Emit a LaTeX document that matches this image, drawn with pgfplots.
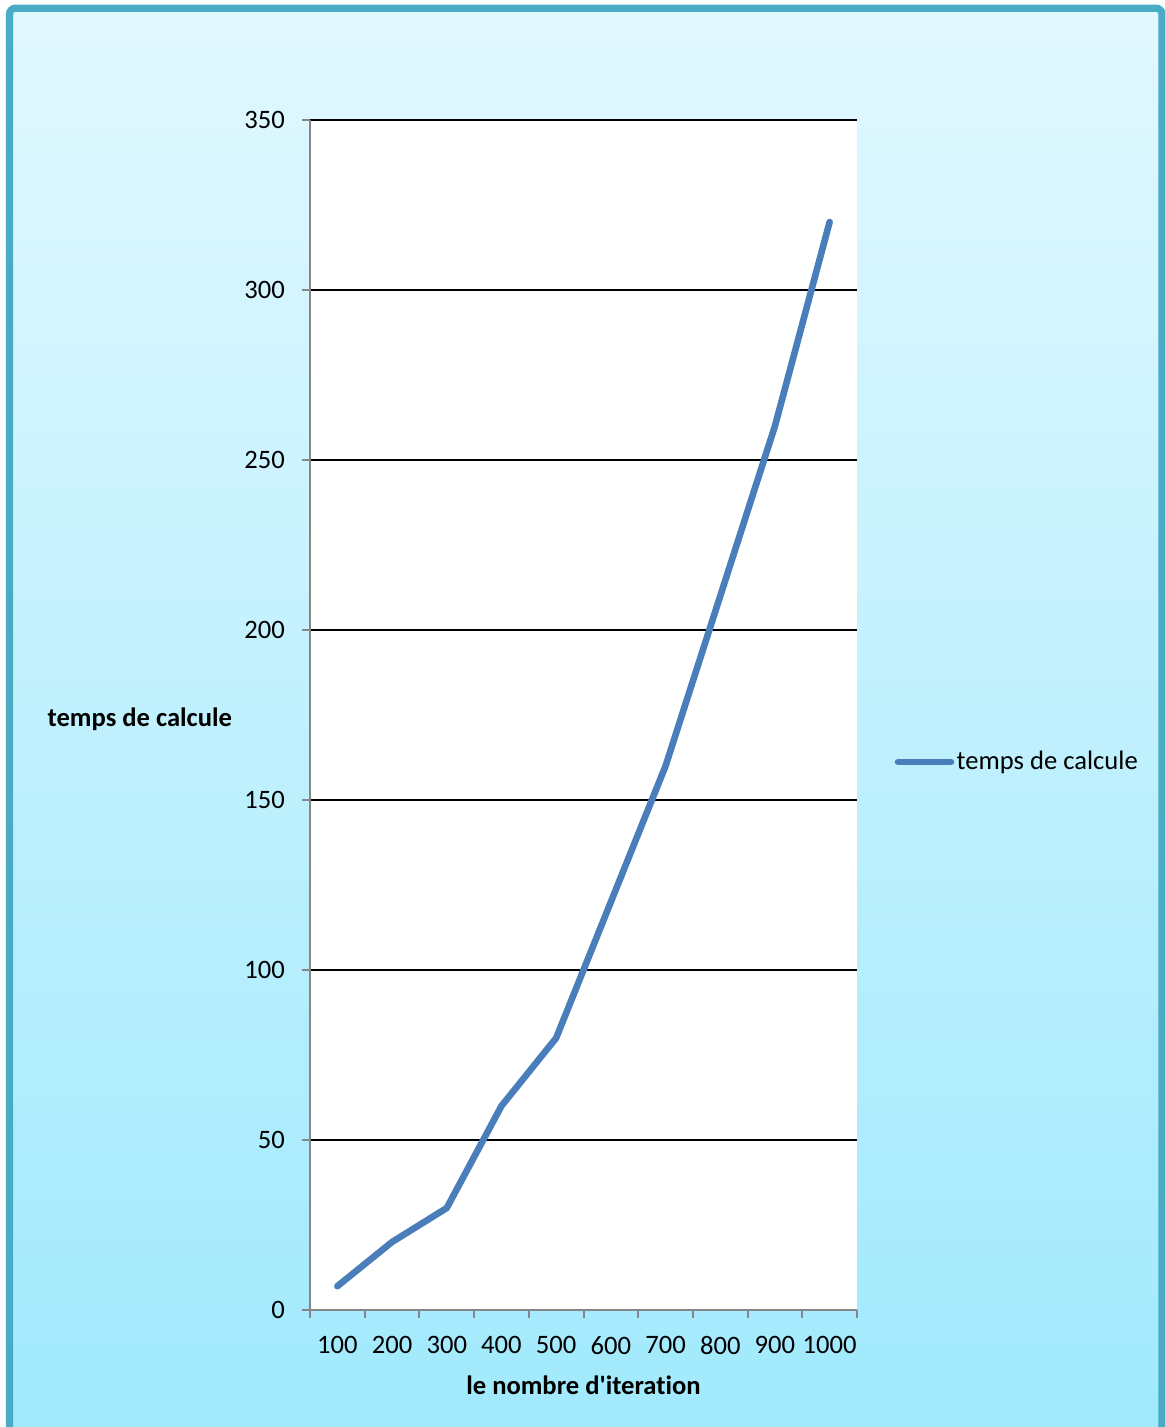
\documentclass[border=0pt]{standalone}
\usepackage{fontspec}
\setmainfont{Carlito}[Ligatures={NoCommon}]
\usepackage{pgfplots}
\pgfplotsset{compat=1.18}

\definecolor{framecol}{HTML}{4AABC5}
\definecolor{bgtop}{HTML}{E1F8FE}
\definecolor{bgbot}{HTML}{A0E9FD}
\definecolor{series}{HTML}{4A7EBB}
\definecolor{axisgray}{HTML}{868686}

\begin{document}
\fontsize{13.3pt}{16pt}\selectfont
\begin{tikzpicture}
\useasboundingbox (0,0) rectangle (582.5pt,713.5pt);
\fill[white] (0,0) rectangle (582.5pt,713.5pt);
% panel background and frame
\shade[top color=bgtop, bottom color=bgbot, rounded corners=3pt]
  (4.75pt,-8pt) rectangle (581pt,709.4pt);
\draw[framecol, line width=3.6pt, rounded corners=3pt]
  (4.75pt,-8pt) rectangle (581pt,709.4pt);

\begin{axis}[
  scale only axis,
  width=273.5pt, height=595pt,
  at={(155pt,58.5pt)}, anchor=south west,
  xmin=-0.5, xmax=9.5, ymin=0, ymax=350,
  axis lines=left,
  axis line style={-, draw=axisgray, line width=1pt},
  axis background/.style={fill=white},
  tick align=outside,
  major tick length=4pt,
  tick style={axisgray, line width=1pt},
  ytick={0,50,100,150,200,250,300,350},
  ymajorgrids,
  major grid style={black, line width=1pt},
  xtick={-0.5,0.5,1.5,2.5,3.5,4.5,5.5,6.5,7.5,8.5,9.5},
  x tick label as interval,
  xticklabels={100,200,300,400,500,600,700,800,900,1000},
  /pgf/number format/assume math mode=true,
  yticklabel style={xshift=-4pt},
  xticklabel style={yshift=-4.5pt},
  xlabel={\bfseries le nombre d\textquotesingle iteration},
  ylabel={\bfseries temps de calcule},
  xlabel style={at={(rel axis cs:0.5,-0.063)}, anchor=center},
  ylabel style={rotate=-90, at={(rel axis cs:-0.311,0.4965)}, anchor=center},
  legend style={at={(rel axis cs:1.073,0.4605)}, anchor=west, xshift=-1.3pt,
    draw=none, fill=none, inner sep=0pt,
    nodes={inner xsep=1.2pt, inner ysep=2pt}},
  legend cell align=left,
  legend image code/.code={\draw[#1] (0pt,0pt) -- (26.5pt,0pt);},
]
\addplot[series, line width=3.3pt, line cap=round, line join=round] coordinates {
  (0,7) (1,20) (2,30) (3,60) (4,80) (5,120) (6,160) (7,210) (8,260) (9,320)
};
\addlegendentry{temps de calcule}
\end{axis}
\end{tikzpicture}
\end{document}
